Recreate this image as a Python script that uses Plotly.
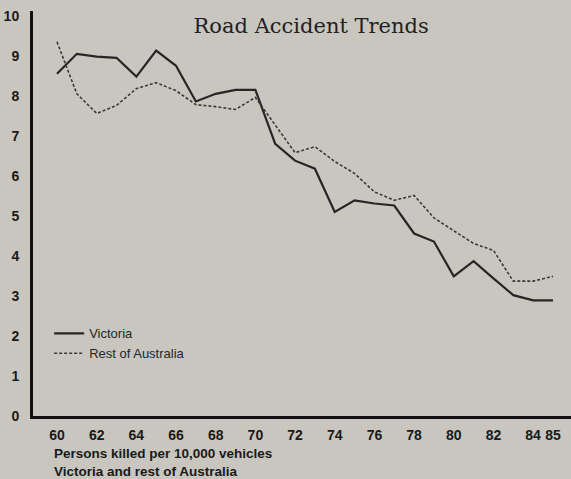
import plotly.graph_objects as go

years = list(range(1960, 1986))
victoria = [8.55, 9.05, 8.98, 8.95, 8.48, 9.13, 8.75, 7.86, 8.05, 8.15, 8.15,
            6.8, 6.38, 6.18, 5.1, 5.39, 5.31, 5.26, 4.56, 4.36, 3.49, 3.87,
            3.44, 3.02, 2.89, 2.89]
rest_of_australia = [9.35, 8.05, 7.56, 7.76, 8.18, 8.33, 8.13, 7.78, 7.73, 7.66, 7.96,
                     7.26, 6.58, 6.73, 6.36, 6.06, 5.6, 5.39, 5.51, 4.95, 4.64, 4.31,
                     4.14, 3.37, 3.37, 3.49]
x_tick_vals = [1960, 1962, 1964, 1966, 1968, 1970, 1972, 1974, 1976, 1978, 1980, 1982, 1984, 1985]
x_tick_text = ["60", "62", "64", "66", "68", "70", "72", "74", "76", "78", "80", "82", "84", "85"]
y_tick_vals = [0, 1, 2, 3, 4, 5, 6, 7, 8, 9, 10]

paper = "#c8c6bf"
ink = "#262626"

fig = go.Figure()
fig.add_trace(go.Scatter(x=years, y=victoria, mode="lines", name="Victoria",
                         line=dict(color=ink, width=2.2)))
fig.add_trace(go.Scatter(x=years, y=rest_of_australia, mode="lines", name="Rest of Australia",
                         line=dict(color="#3a3a3a", width=1.6, dash="3px,2px")))

fig.update_layout(
    width=571, height=479,
    margin=dict(l=33, r=0, t=11, b=63),
    paper_bgcolor=paper, plot_bgcolor=paper,
    showlegend=True,
    legend=dict(x=0.03, y=0.241, xanchor="left", yanchor="top",
                bgcolor="rgba(0,0,0,0)", font=dict(family="Liberation Sans", size=13, color=ink),
                itemwidth=30, tracegroupgap=0),
    title=dict(text="Road Accident Trends", x=0.545, xanchor="center", y=0.947, yanchor="middle",
               font=dict(family="DejaVu Serif", size=21, color="#222")),
    xaxis=dict(range=[1958.79, 1985.91], tickvals=x_tick_vals, ticktext=x_tick_text,
               showgrid=False, zeroline=False, showline=True, linecolor="#111", linewidth=3,
               ticks="", ticklabelstandoff=4,
               tickfont=dict(family="Liberation Sans", size=14, color="#1a1a1a", weight="bold")),
    yaxis=dict(range=[0, 10.12], tickvals=y_tick_vals,
               showgrid=False, zeroline=False, showline=True, linecolor="#111", linewidth=3,
               ticks="", ticklabelstandoff=8,
               tickfont=dict(family="Liberation Sans", size=14, color="#1a1a1a", weight="bold")),
    annotations=[
        dict(text="Persons killed per 10,000 vehicles<br>Victoria and rest of Australia",
             xref="paper", yref="paper", x=(52 - 33) / 538, y=-0.068, xanchor="left", yanchor="top",
             align="left", showarrow=False,
             font=dict(family="Liberation Sans", size=13.5, color="#1a1a1a", weight="bold")),
    ],
)

fig.write_html("out.html", config={"displayModeBar": False},
               post_script="document.body.style.margin='0';document.body.style.background='%s';" % paper)
